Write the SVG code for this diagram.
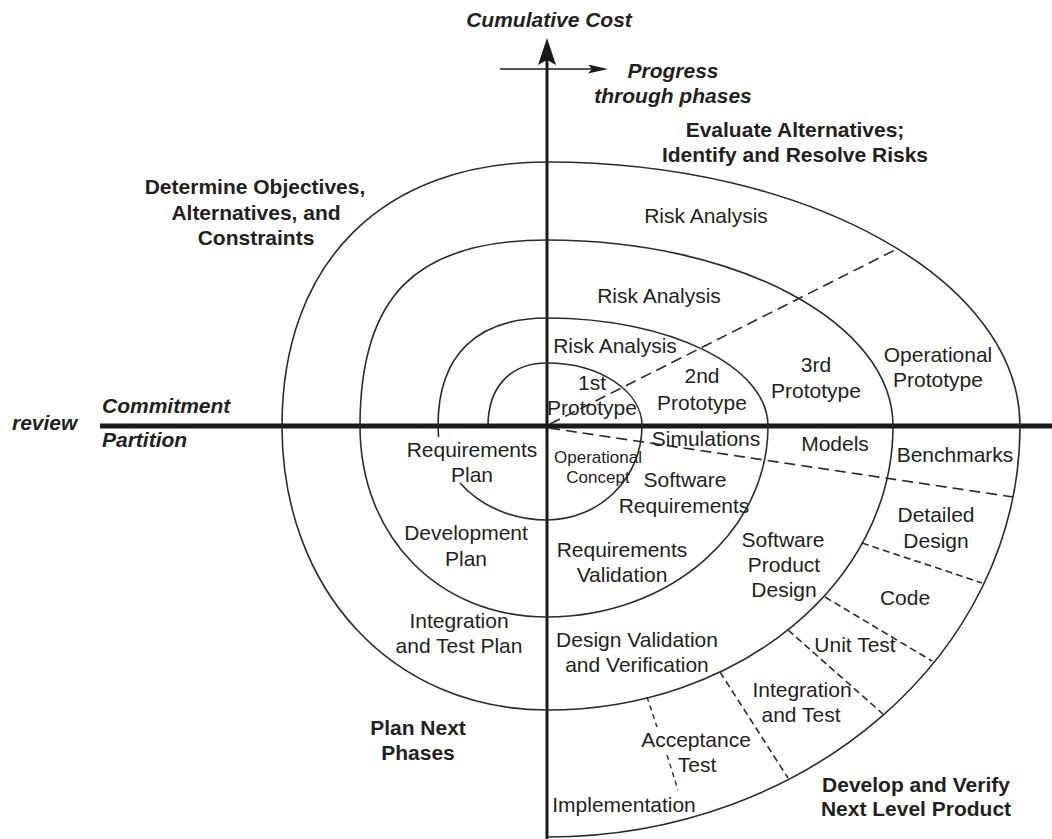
<svg xmlns="http://www.w3.org/2000/svg" width="1052" height="839" viewBox="0 0 1052 839">
  <style>
    text { font-family: "Liberation Sans", Arial, Helvetica, sans-serif; font-size: 21px; fill: #231f20; text-anchor: middle; }
    .hd { font-weight: bold; }
    .ax { font-weight: bold; font-style: italic; }
    .sm { font-size: 17px; }
    .st { text-anchor: start; }
    .spiral { fill: none; stroke: #2b2b2b; stroke-width: 1.6; }
    .cut { fill: none; stroke: #2b2b2b; stroke-width: 1.6; stroke-dasharray: 11 6; }
    .cut2 { fill: none; stroke: #2b2b2b; stroke-width: 1.6; stroke-dasharray: 7 4; }
    .cut3 { fill: none; stroke: #2b2b2b; stroke-width: 1.4; stroke-dasharray: 5 4; }
  </style>
  <defs>
    <marker id="head-axis" viewBox="0 0 27 18" refX="15" refY="9" markerWidth="27" markerHeight="18" markerUnits="userSpaceOnUse" orient="auto">
      <path d="M0,0 L27,9 L0,18 L5,9 Z" fill="#1a1a1a"/>
    </marker>
    <marker id="head-small" viewBox="0 0 20 9" refX="16" refY="4.5" markerWidth="20" markerHeight="9" markerUnits="userSpaceOnUse" orient="auto">
      <path d="M0,0 L20,4.5 L0,9 L4,4.5 Z" fill="#1a1a1a"/>
    </marker>
  </defs>

  <rect width="1052" height="839" fill="#ffffff"/>

  <!-- axes -->
  <g id="axes">
    <line x1="100" y1="426" x2="1052" y2="426" stroke="#1a1a1a" stroke-width="5"/>
    <line x1="547" y1="839" x2="547" y2="50" stroke="#1a1a1a" stroke-width="3" marker-end="url(#head-axis)"/>
    <line x1="500" y1="69" x2="604" y2="69" stroke="#1a1a1a" stroke-width="1.6" marker-end="url(#head-small)"/>
  </g>

  <!-- the spiral, one loop per cycle -->
  <g id="spiral">
    <path class="spiral" d="M 488 426 C 488 387 510.4 363 547 363 C 599.5 363 642 391.2 642 426 C 642 477.9 599.5 520 547 520 A 109 94 0 0 1 460 483"/>
    <path class="spiral" d="M 438.5 437 L 438 426 C 438 355.8 476.2 318 547 318 C 669.1 318 768 366.4 768 426 C 768 531.5 669.1 617 547 617 C 438.5 617 360 536.8 360 426"/>
    <path class="spiral" d="M 360 426 C 360 295.8 416.1 240 547 240 C 738.1 240 893 323.3 893 426 C 893 582.9 738.1 710 547 710 C 393.3 710 282 590.7 282 426"/>
    <path class="spiral" d="M 282 426 C 282 262.3 382.7 162 547 162 C 808.2 162 1020 280.2 1020 426 C 1020 653 808.2 837 547 837"/>
  </g>

  <!-- dashed partitions between the activities -->
  <g id="connectors">
    <line class="cut" x1="550" y1="424" x2="897" y2="249"/>
    <line class="cut" x1="549" y1="428" x2="1013" y2="497"/>
    <line class="cut2" x1="862" y1="543" x2="982" y2="583"/>
    <line class="cut2" x1="825" y1="597" x2="932" y2="661"/>
    <line class="cut2" x1="788" y1="630" x2="883" y2="714"/>
    <line class="cut2" x1="720" y1="672" x2="788" y2="778"/>
    <line class="cut3" x1="647" y1="697" x2="657" y2="727"/>
    <line class="cut3" x1="667" y1="755" x2="678" y2="790"/>
  </g>

  <!-- axis captions -->
  <g id="cumulative-cost"><text class="ax" x="549" y="27">Cumulative Cost</text></g>
  <g id="progress"><text class="ax" x="673" y="78">Progress</text><text class="ax" x="673" y="103">through phases</text></g>
  <g id="commitment"><text class="ax st" x="102" y="413">Commitment</text></g>
  <g id="review"><text class="ax st" x="12" y="430">review</text></g>
  <g id="partition"><text class="ax st" x="102" y="447">Partition</text></g>

  <!-- quadrant titles -->
  <g id="q-evaluate"><text class="hd" x="795" y="137">Evaluate Alternatives;</text><text class="hd" x="795" y="162">Identify and Resolve Risks</text></g>
  <g id="q-determine"><text class="hd" x="255" y="194">Determine Objectives,</text><text class="hd" x="256" y="219.5">Alternatives, and</text><text class="hd" x="256" y="245">Constraints</text></g>
  <g id="q-plan"><text class="hd" x="418" y="735">Plan Next</text><text class="hd" x="418" y="760">Phases</text></g>
  <g id="q-develop"><text class="hd" x="916" y="792">Develop and Verify</text><text class="hd" x="916" y="816">Next Level Product</text></g>

  <!-- risk analysis band -->
  <g id="risk-analysis-4"><text x="706" y="223">Risk Analysis</text></g>
  <g id="risk-analysis-3"><text x="659" y="303">Risk Analysis</text></g>
  <g id="risk-analysis-2"><text x="615" y="353">Risk Analysis</text></g>

  <!-- prototypes -->
  <g id="prototype-1"><text x="592" y="390">1st</text><text x="592" y="415">Prototype</text></g>
  <g id="prototype-2"><text x="702" y="383">2nd</text><text x="702" y="410">Prototype</text></g>
  <g id="prototype-3"><text x="816" y="372">3rd</text><text x="816" y="398">Prototype</text></g>
  <g id="prototype-op"><text x="938" y="362">Operational</text><text x="938" y="387">Prototype</text></g>

  <!-- simulations, models, benchmarks -->
  <g id="simulations"><text x="706" y="446">Simulations</text></g>
  <g id="models"><text x="835" y="451">Models</text></g>
  <g id="benchmarks"><text x="955" y="462">Benchmarks</text></g>

  <!-- development activities -->
  <g id="operational-concept"><text class="sm" x="598" y="463">Operational</text><text class="sm" x="598" y="483">Concept</text></g>
  <g id="software-requirements"><text x="685" y="487">Software</text><text x="684" y="513">Requirements</text></g>
  <g id="requirements-validation"><text x="622" y="557">Requirements</text><text x="622" y="582">Validation</text></g>
  <g id="software-product-design"><text x="783" y="547">Software</text><text x="784" y="572">Product</text><text x="784" y="597">Design</text></g>
  <g id="detailed-design"><text x="936" y="522">Detailed</text><text x="936" y="548">Design</text></g>
  <g id="code"><text x="905" y="605">Code</text></g>
  <g id="unit-test"><text x="855" y="652">Unit Test</text></g>
  <g id="integration-test"><text x="802" y="697">Integration</text><text x="801" y="722">and Test</text></g>
  <g id="acceptance-test"><text x="696" y="747">Acceptance</text><text x="697" y="772">Test</text></g>
  <g id="implementation"><text x="624" y="812">Implementation</text></g>
  <g id="design-vv"><text x="637" y="647">Design Validation</text><text x="637" y="672">and Verification</text></g>

  <!-- plans -->
  <g id="requirements-plan"><text x="472" y="457">Requirements</text><text x="472" y="482">Plan</text></g>
  <g id="development-plan"><text x="466" y="540">Development</text><text x="466" y="566">Plan</text></g>
  <g id="integration-test-plan"><text x="459" y="628">Integration</text><text x="459" y="653">and Test Plan</text></g>
</svg>
